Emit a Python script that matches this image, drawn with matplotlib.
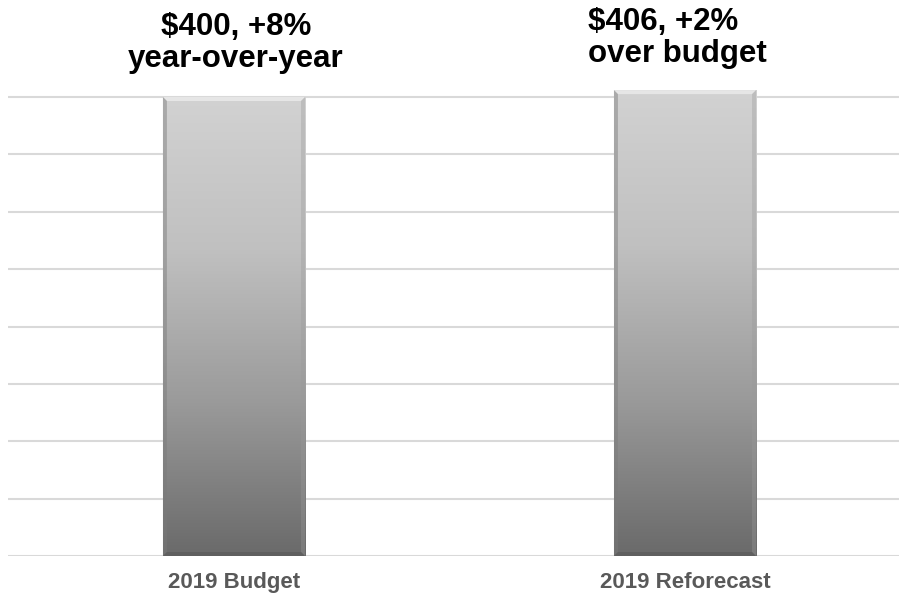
import matplotlib
matplotlib.use("Agg")
import matplotlib.pyplot as plt
import numpy as np
from matplotlib.colors import LinearSegmentedColormap
from matplotlib.patches import Polygon

categories = ["2019 Budget", "2019 Reforecast"]
values = [400, 406]
labels = ["$400, +8%\nyear-over-year", "$406, +2%\nover budget"]
yticks = [0, 50, 100, 150, 200, 250, 300, 350, 400]

W, H = 899, 598
fig = plt.figure(figsize=(W / 100, H / 100), dpi=100)
base_px, top_px = 556, 97
scale = (base_px - top_px) / 400.0
ymax = base_px / scale
ax = fig.add_axes([8 / W, (H - base_px) / H, (W - 8) / W, base_px / H])
xl, xr = -0.501, 1.4745
ax.set_xlim(xl, xr)
ax.set_ylim(0, ymax)

ax.set_yticks(yticks)
ax.yaxis.grid(True, color="#d9d9d9", linewidth=1.5)
ax.set_axisbelow(True)
for s in ax.spines.values():
    s.set_visible(False)
ax.tick_params(axis="y", left=False, labelleft=False)
ax.tick_params(axis="x", bottom=False, labelsize=16, labelcolor="#595959", pad=8)

x = np.arange(len(categories))
width = 0.315
bars = ax.bar(x, values, width=width, color="none", edgecolor="none")
ax.set_xticks(x)
ax.set_xticklabels(categories, fontfamily="Liberation Sans", fontweight="bold")

cmap = LinearSegmentedColormap.from_list("g", ["#6a6a6a", "#9a9a9a", "#c0c0c0", "#d2d2d2"])
grad = np.linspace(0, 1, 256).reshape(-1, 1)
px_per_x = (W - 8) / (xr - xl)
bev_x = 4 / px_per_x
bev_y = 4 / scale
for b in bars:
    x0, w, h = b.get_x(), b.get_width(), b.get_height()
    ax.imshow(grad, extent=[x0, x0 + w, 0, h], origin="lower", cmap=cmap,
              aspect="auto", zorder=2, clip_on=False)
    ax.add_patch(Polygon([[x0, h], [x0 + w, h], [x0 + w - bev_x, h - bev_y], [x0 + bev_x, h - bev_y]],
                         closed=True, facecolor="#e6e6e6", edgecolor="none", zorder=3, clip_on=False))
    ax.add_patch(Polygon([[x0, 0], [x0, h], [x0 + bev_x, h - bev_y], [x0 + bev_x, bev_y]],
                         closed=True, facecolor="#7a7a7a", edgecolor="none", alpha=0.45, zorder=3, clip_on=False))
    ax.add_patch(Polygon([[x0 + w, 0], [x0 + w, h], [x0 + w - bev_x, h - bev_y], [x0 + w - bev_x, bev_y]],
                         closed=True, facecolor="#9a9a9a", edgecolor="none", alpha=0.35, zorder=3, clip_on=False))
    ax.add_patch(Polygon([[x0, 0], [x0 + w, 0], [x0 + w - bev_x, bev_y], [x0 + bev_x, bev_y]],
                         closed=True, facecolor="#555555", edgecolor="none", alpha=0.5, zorder=3, clip_on=False))
ax.set_xlim(xl, xr)
ax.set_ylim(0, ymax)

# annotations
ax.text(x[0] + 0.004, values[0] + 30 / scale, labels[0], ha="center", va="baseline",
        fontsize=22.5, fontweight="bold", fontfamily="Liberation Sans", color="black", linespacing=1.08)
ax.text(x[1] - 0.215, values[1] + 28 / scale, labels[1], ha="left", va="baseline",
        fontsize=22.5, fontweight="bold", fontfamily="Liberation Sans", color="black", linespacing=1.08,
        multialignment="left")

fig.savefig("out.png", dpi=100, facecolor="white")
